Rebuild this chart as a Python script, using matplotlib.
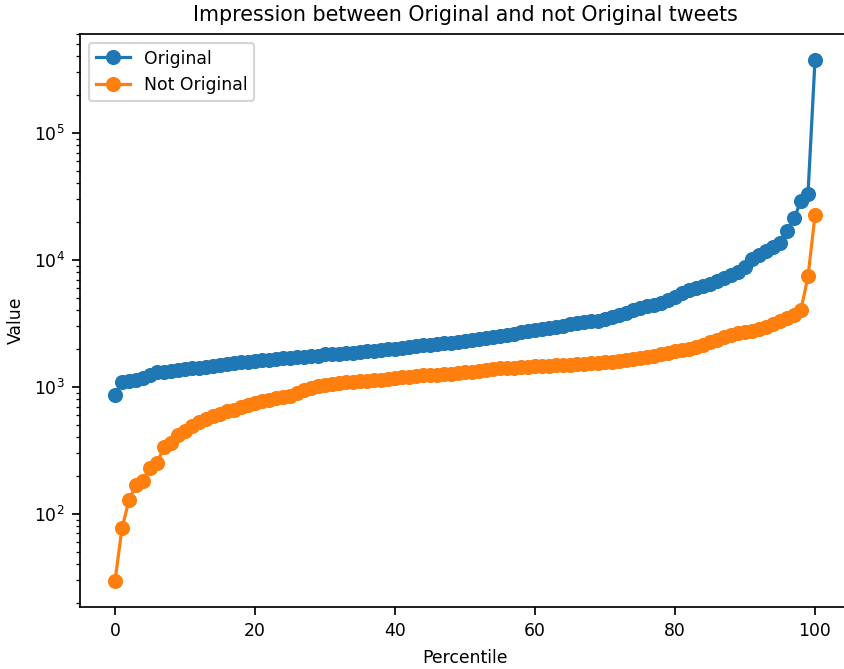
"""Impression percentiles: original vs not original tweets."""

import matplotlib

matplotlib.use("Agg")
import matplotlib.pyplot as plt

percentiles = list(range(101))

original = [
    865, 1095, 1110, 1140, 1180, 1240, 1300, 1320, 1340, 1360,
    1380, 1400, 1420, 1440, 1460, 1490, 1520, 1540, 1560, 1580,
    1600, 1620, 1640, 1660, 1680, 1690, 1710, 1720, 1740, 1760,
    1800, 1810, 1820, 1840, 1860, 1880, 1900, 1930, 1960, 1980,
    2000, 2030, 2060, 2090, 2120, 2150, 2180, 2200, 2220, 2260,
    2300, 2340, 2380, 2420, 2470, 2530, 2580, 2630, 2690, 2750,
    2800, 2860, 2920, 2980, 3040, 3100, 3160, 3220, 3280, 3330,
    3420, 3560, 3700, 3850, 4000, 4150, 4300, 4450, 4600, 4800,
    5100, 5500, 5800, 6000, 6200, 6500, 6800, 7200, 7600, 8000,
    8800, 10200, 11000, 11800, 12600, 13600, 16800, 21300, 29000, 33000,
    375000,
]

not_original = [
    29.6, 77, 128, 170, 182, 230, 252, 335, 362, 420,
    450, 490, 530, 560, 590, 615, 640, 660, 690, 720,
    750, 770, 790, 810, 830, 850, 900, 940, 980, 1010,
    1030, 1050, 1070, 1090, 1100, 1110, 1120, 1130, 1140, 1160,
    1180, 1190, 1200, 1210, 1230, 1240, 1250, 1260, 1270, 1290,
    1300, 1320, 1340, 1360, 1380, 1400, 1410, 1420, 1430, 1440,
    1450, 1460, 1470, 1480, 1490, 1500, 1510, 1520, 1530, 1545,
    1560, 1580, 1600, 1620, 1650, 1680, 1720, 1760, 1800, 1850,
    1900, 1950, 2000, 2050, 2150, 2250, 2350, 2450, 2550, 2650,
    2700, 2750, 2850, 2950, 3100, 3300, 3500, 3700, 4050, 7400,
    22500,
]


def main() -> None:
    dpi = 155
    plt.rcParams["font.size"] = 8
    fig = plt.figure(figsize=(844 / dpi, 669 / dpi), dpi=dpi)
    # original was a default-size figure, cropped; axes run past the right edge
    ax = fig.add_axes([80 / 844, 62 / 669, 770 / 844, 573 / 669])

    ax.plot(percentiles, original, marker="o", label="Original")
    ax.plot(percentiles, not_original, marker="o", label="Not Original")
    ax.set_yscale("log")

    ax.set_title("Impression between Original and not Original tweets")
    ax.set_xlabel("Percentile")
    ax.set_ylabel("Value")
    ax.legend(loc="upper left")

    fig.savefig("out.png", dpi=dpi)
    plt.close(fig)


if __name__ == "__main__":
    main()
